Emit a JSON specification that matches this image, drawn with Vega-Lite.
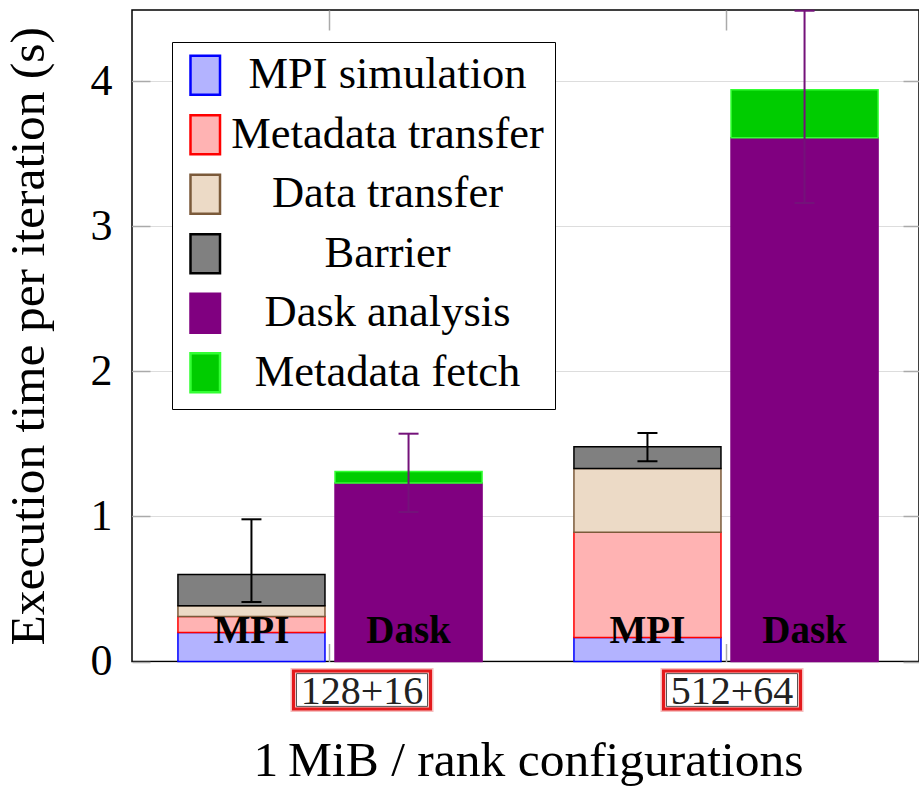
{
  "$schema": "https://vega.github.io/schema/vega-lite/v6.json",
  "width": 787,
  "height": 651.5,
  "autosize": {"type": "none"},
  "padding": {"left": 132, "top": 10, "right": 0, "bottom": 124.5},
  "background": "white",
  "config": {
    "view": {"stroke": "black", "strokeWidth": 1.5},
    "font": "Liberation Serif",
    "axis": {"labelFont": "Liberation Serif", "titleFont": "Liberation Serif", "titleFontWeight": "normal", "titleColor": "black", "labelColor": "black", "domain": false}
  },
  "datasets": {
    "bars": [
      {"config": "128+16", "type": "MPI", "component": "MPI simulation", "ord": 1, "value": 0.2},
      {"config": "128+16", "type": "MPI", "component": "Metadata transfer", "ord": 2, "value": 0.11},
      {"config": "128+16", "type": "MPI", "component": "Data transfer", "ord": 3, "value": 0.075},
      {"config": "128+16", "type": "MPI", "component": "Barrier", "ord": 4, "value": 0.215},
      {"config": "128+16", "type": "Dask", "component": "Dask analysis", "ord": 5, "value": 1.23},
      {"config": "128+16", "type": "Dask", "component": "Metadata fetch", "ord": 6, "value": 0.08},
      {"config": "512+64", "type": "MPI", "component": "MPI simulation", "ord": 1, "value": 0.165},
      {"config": "512+64", "type": "MPI", "component": "Metadata transfer", "ord": 2, "value": 0.725},
      {"config": "512+64", "type": "MPI", "component": "Data transfer", "ord": 3, "value": 0.44},
      {"config": "512+64", "type": "MPI", "component": "Barrier", "ord": 4, "value": 0.15},
      {"config": "512+64", "type": "Dask", "component": "Dask analysis", "ord": 5, "value": 3.61},
      {"config": "512+64", "type": "Dask", "component": "Metadata fetch", "ord": 6, "value": 0.33}
    ],
    "err": [
      {"config": "128+16", "type": "MPI", "lo": 0.41, "hi": 0.98},
      {"config": "128+16", "type": "Dask", "lo": 1.03, "hi": 1.57},
      {"config": "512+64", "type": "MPI", "lo": 1.38, "hi": 1.575},
      {"config": "512+64", "type": "Dask", "lo": 3.16, "hi": 4.485}
    ],
    "cfg": [{"config": "128+16"}, {"config": "512+64"}]
  },
  "layer": [
    {
      "data": {"name": "bars"},
      "mark": {"type": "bar", "strokeWidth": 1.5},
      "encoding": {
        "x": {
          "field": "config", "type": "nominal",
          "scale": {"range": [0, 792], "paddingInner": 0.232, "paddingOuter": 0.116},
          "axis": {
            "orient": "bottom", "title": "1\u2009MiB / rank configurations", "titleFontSize": 49.5,
            "titleBaseline": "alphabetic", "titleY": 113.5,
            "labelFontSize": 40, "labelColor": "#222", "labelAngle": 0, "labelBaseline": "top",
            "labelOffset": {"condition": {"test": "datum.value === '128+16'", "value": 32}, "value": 6},
            "labelPadding": 28, "tickSize": -18, "tickColor": "#aaaaaa", "tickWidth": 1.5
          }
        },
        "xOffset": {"field": "type", "type": "nominal", "scale": {"domain": ["MPI", "Dask"], "paddingInner": 0.064, "paddingOuter": 0}},
        "y": {
          "field": "value", "type": "quantitative",
          "scale": {"domain": [0, 4.49], "nice": false, "zero": true},
          "axis": {
            "orient": "left", "title": "Execution time per iteration (s)", "titleFontSize": 49.5,
            "titleBaseline": "alphabetic", "titleX": -89, "titleAngle": -90,
            "values": [0, 1, 2, 3, 4], "format": "d", "labelFontSize": 44, "labelPadding": 38,
            "tickSize": -18, "tickColor": "#aaaaaa", "tickWidth": 1.5
          }
        },
        "order": {"field": "ord", "type": "quantitative", "sort": "ascending"},
        "fill": {
          "field": "component", "type": "nominal",
          "scale": {
            "domain": ["MPI simulation", "Metadata transfer", "Data transfer", "Barrier", "Dask analysis", "Metadata fetch"],
            "range": ["#b3b3ff", "#ffb3b3", "#ecdac6", "#808080", "#800080", "#00cc00"]
          },
          "legend": {
            "title": null, "orient": "none", "legendX": 40, "legendY": 32,
            "symbolType": "M-0.72,-0.95H0.72V0.95H-0.72Z", "symbolSize": 1681, "symbolStrokeWidth": 2.5, "symbolOpacity": 1,
            "labelFont": "Liberation Serif", "labelFontSize": 44.5, "labelColor": "black",
            "labelAlign": "center", "labelOffset": 160, "labelLimit": 0,
            "rowPadding": 9.5, "padding": 11, "strokeColor": "black", "fillColor": "white"
          }
        },
        "stroke": {
          "field": "component", "type": "nominal",
          "scale": {
            "domain": ["MPI simulation", "Metadata transfer", "Data transfer", "Barrier", "Dask analysis", "Metadata fetch"],
            "range": ["#0000ff", "#ff0000", "#7b5a3a", "#000000", "#800080", "#33ff33"]
          },
          "legend": {
            "title": null, "orient": "none", "legendX": 40, "legendY": 32,
            "symbolType": "M-0.72,-0.95H0.72V0.95H-0.72Z", "symbolSize": 1681, "symbolStrokeWidth": 2.5, "symbolOpacity": 1,
            "labelFont": "Liberation Serif", "labelFontSize": 44.5, "labelColor": "black",
            "labelAlign": "center", "labelOffset": 160, "labelLimit": 0,
            "rowPadding": 9.5, "padding": 11, "strokeColor": "black", "fillColor": "white"
          }
        }
      }
    },
    {
      "data": {"name": "err"},
      "mark": {"type": "rule", "strokeWidth": 2},
      "encoding": {
        "x": {"field": "config", "type": "nominal", "axis": {"orient": "top", "title": null, "labels": false, "tickSize": -20, "tickColor": "#aaaaaa", "tickWidth": 1.5}},
        "xOffset": {"field": "type", "type": "nominal"},
        "y": {"field": "lo", "type": "quantitative", "scale": {"domain": [0, 4.49], "nice": false},
          "axis": {"orient": "right", "title": null, "labels": false, "values": [0, 1, 2, 3, 4], "tickSize": -16, "tickColor": "#aaaaaa", "tickWidth": 1.5}},
        "y2": {"field": "hi"},
        "color": {"field": "type", "type": "nominal", "scale": {"domain": ["MPI", "Dask"], "range": ["#000000", "#74127a"]}, "legend": null}
      }
    },
    {
      "data": {"name": "err"},
      "mark": {"type": "tick", "size": 20, "thickness": 2, "opacity": 1},
      "encoding": {
        "x": {"field": "config", "type": "nominal", "axis": null},
        "xOffset": {"field": "type", "type": "nominal"},
        "y": {"field": "lo", "type": "quantitative", "axis": null},
        "color": {"field": "type", "type": "nominal", "legend": null}
      }
    },
    {
      "data": {"name": "err"},
      "mark": {"type": "tick", "size": 20, "thickness": 2, "opacity": 1},
      "encoding": {
        "x": {"field": "config", "type": "nominal", "axis": null},
        "xOffset": {"field": "type", "type": "nominal"},
        "y": {"field": "hi", "type": "quantitative", "axis": null},
        "color": {"field": "type", "type": "nominal", "legend": null}
      }
    },
    {
      "data": {"name": "err"},
      "mark": {"type": "text", "font": "Liberation Serif", "fontSize": 39, "fontWeight": "bold", "baseline": "alphabetic", "dy": -18.5, "color": "black"},
      "encoding": {
        "x": {"field": "config", "type": "nominal", "axis": null},
        "xOffset": {"field": "type", "type": "nominal"},
        "y": {"datum": 0, "type": "quantitative", "axis": null},
        "text": {"field": "type"}
      }
    },
    {
      "data": {"name": "cfg"},
      "mark": {"type": "point", "shape": "M-1,-0.277H1V0.277H-1Z", "size": 18769, "filled": false, "stroke": "#f08080", "strokeWidth": 6, "opacity": 0.5, "yOffset": 28.5,
        "xOffset": {"expr": "datum.config === '128+16' ? 32 : 6"}},
      "encoding": {
        "x": {"field": "config", "type": "nominal", "axis": null},
        "y": {"datum": 0, "type": "quantitative", "axis": null}
      }
    },
    {
      "data": {"name": "cfg"},
      "mark": {"type": "point", "shape": "M-1,-0.277H1V0.277H-1Z", "size": 18769, "filled": false, "stroke": "#e31a1c", "strokeWidth": 3, "opacity": 1, "yOffset": 28.5,
        "xOffset": {"expr": "datum.config === '128+16' ? 32 : 6"}},
      "encoding": {
        "x": {"field": "config", "type": "nominal", "axis": null},
        "y": {"datum": 0, "type": "quantitative", "axis": null}
      }
    },
    {
      "data": {"name": "cfg"},
      "mark": {"type": "point", "shape": "M-1,-0.25H1V0.25H-1Z", "size": 17161, "filled": false, "stroke": "#555555", "strokeWidth": 1, "opacity": 1, "yOffset": 28.5,
        "xOffset": {"expr": "datum.config === '128+16' ? 32 : 6"}},
      "encoding": {
        "x": {"field": "config", "type": "nominal", "axis": null},
        "y": {"datum": 0, "type": "quantitative", "axis": null}
      }
    }
  ],
  "resolve": {"axis": {"x": "independent", "y": "independent"}}
}
